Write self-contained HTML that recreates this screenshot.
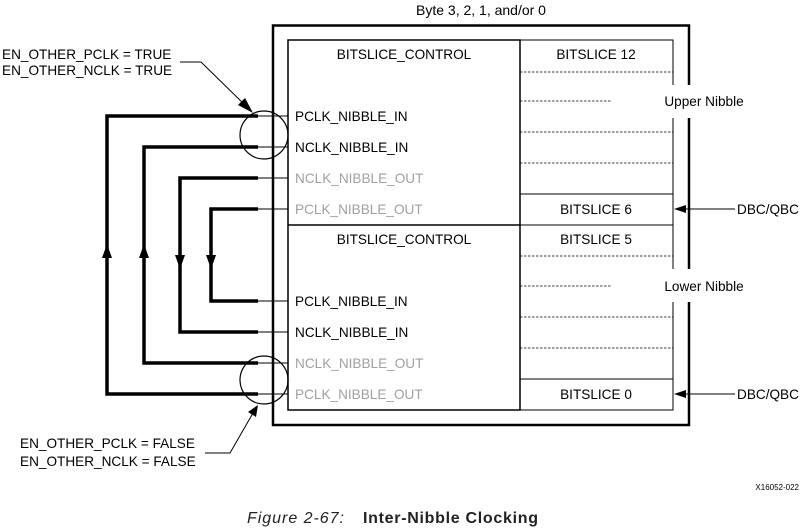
<!DOCTYPE html>
<html><head><meta charset="utf-8"><style>
html,body{margin:0;padding:0;background:#fff;}
svg{display:block;}
text{font-family:"Liberation Sans",Arial,sans-serif;font-size:13.6px;fill:#000;}
.g{fill:#a0a0a0;}
</style></head><body>
<svg width="801" height="529" viewBox="0 0 801 529" xmlns="http://www.w3.org/2000/svg">
<text x="481" y="15" text-anchor="middle" style="font-size:14px">Byte 3, 2, 1, and/or 0</text>
<rect x="273" y="25.5" width="416" height="399.5" fill="none" stroke="#000" stroke-width="2.5"/>
<rect x="288" y="40" width="232" height="370" fill="none" stroke="#000" stroke-width="1.5"/>
<line x1="288" y1="225" x2="520" y2="225" stroke="#000" stroke-width="1.5"/>
<rect x="520" y="40" width="153" height="370" fill="none" stroke="#000" stroke-width="1"/>
<g stroke="#000" stroke-width="1">
<line x1="520" y1="194" x2="673" y2="194"/>
<line x1="520" y1="225" x2="673" y2="225"/>
<line x1="520" y1="379" x2="673" y2="379"/>
</g>
<g stroke="#000" stroke-width="0.8" stroke-dasharray="2.5,1.5">
<line x1="520" y1="72" x2="673" y2="72"/>
<line x1="520" y1="101" x2="612" y2="101"/>
<line x1="520" y1="132" x2="673" y2="132"/>
<line x1="520" y1="163" x2="673" y2="163"/>
<line x1="520" y1="256" x2="673" y2="256"/>
<line x1="520" y1="286" x2="612" y2="286"/>
<line x1="520" y1="317" x2="673" y2="317"/>
<line x1="520" y1="348" x2="673" y2="348"/>
</g>
<rect x="660" y="85" width="90" height="33" fill="#fff"/>
<rect x="660" y="269" width="90" height="33" fill="#fff"/>
<text x="704" y="106" text-anchor="middle">Upper Nibble</text>
<text x="704" y="291" text-anchor="middle">Lower Nibble</text>
<text x="596" y="59" text-anchor="middle">BITSLICE 12</text>
<text x="596" y="214" text-anchor="middle">BITSLICE 6</text>
<text x="596" y="244" text-anchor="middle">BITSLICE 5</text>
<text x="596" y="399" text-anchor="middle">BITSLICE 0</text>
<text x="404" y="59" text-anchor="middle">BITSLICE_CONTROL</text>
<text x="404" y="244" text-anchor="middle">BITSLICE_CONTROL</text>
<text x="295" y="121">PCLK_NIBBLE_IN</text>
<text x="295" y="152">NCLK_NIBBLE_IN</text>
<text x="295" y="183" class="g">NCLK_NIBBLE_OUT</text>
<text x="295" y="214" class="g">PCLK_NIBBLE_OUT</text>
<text x="295" y="306">PCLK_NIBBLE_IN</text>
<text x="295" y="337">NCLK_NIBBLE_IN</text>
<text x="295" y="368" class="g">NCLK_NIBBLE_OUT</text>
<text x="295" y="399" class="g">PCLK_NIBBLE_OUT</text>
<g stroke="#000" stroke-width="1">
<line x1="258" y1="116" x2="288" y2="116"/><line x1="258" y1="147" x2="288" y2="147"/>
<line x1="258" y1="178" x2="288" y2="178"/><line x1="258" y1="209" x2="288" y2="209"/>
<line x1="258" y1="301" x2="288" y2="301"/><line x1="258" y1="332" x2="288" y2="332"/>
<line x1="258" y1="363" x2="288" y2="363"/><line x1="258" y1="394" x2="288" y2="394"/>
</g>
<g stroke="#000" stroke-width="3.5" fill="none" stroke-linejoin="miter">
<polyline points="258,116 107,116 107,394 258,394"/>
<polyline points="258,147 144,147 144,363 258,363"/>
<polyline points="258,178 180,178 180,332 258,332"/>
<polyline points="258,209 211,209 211,301 258,301"/>
</g>
<g fill="#000">
<polygon points="107,244 102,258 112,258"/>
<polygon points="144,244 139,258 149,258"/>
<polygon points="180,269 175,255 185,255"/>
<polygon points="211,269 206,255 216,255"/>
</g>
<circle cx="264" cy="135" r="24" fill="none" stroke="#000" stroke-width="1.2"/>
<circle cx="264" cy="380" r="24" fill="none" stroke="#000" stroke-width="1.2"/>
<text x="2" y="59">EN_OTHER_PCLK = TRUE</text>
<text x="2" y="75">EN_OTHER_NCLK = TRUE</text>
<polyline points="180,62 201,62 246,106" fill="none" stroke="#000" stroke-width="1"/>
<polygon points="253,113 238,105 245,98" fill="#000"/>
<text x="20" y="448">EN_OTHER_PCLK = FALSE</text>
<text x="20" y="466">EN_OTHER_NCLK = FALSE</text>
<polyline points="205,453 230,453 253,413" fill="none" stroke="#000" stroke-width="1"/>
<polygon points="258,405 248,412 256,417" fill="#000"/>
<line x1="684" y1="209" x2="735" y2="209" stroke="#000" stroke-width="1"/>
<polygon points="674,209 686,205 686,213" fill="#000"/>
<text x="737" y="214">DBC/QBC</text>
<line x1="684" y1="394" x2="735" y2="394" stroke="#000" stroke-width="1"/>
<polygon points="674,394 686,390 686,398" fill="#000"/>
<text x="737" y="399">DBC/QBC</text>
<text x="799" y="490" text-anchor="end" style="font-size:8px">X16052-022</text>
<text x="247" y="523" textLength="97" style="font-size:16px;font-style:italic;fill:#222">Figure 2-67:</text>
<text x="363" y="523" textLength="175" style="font-size:16px;font-weight:bold;fill:#222">Inter-Nibble Clocking</text>
</svg>
</body></html>
